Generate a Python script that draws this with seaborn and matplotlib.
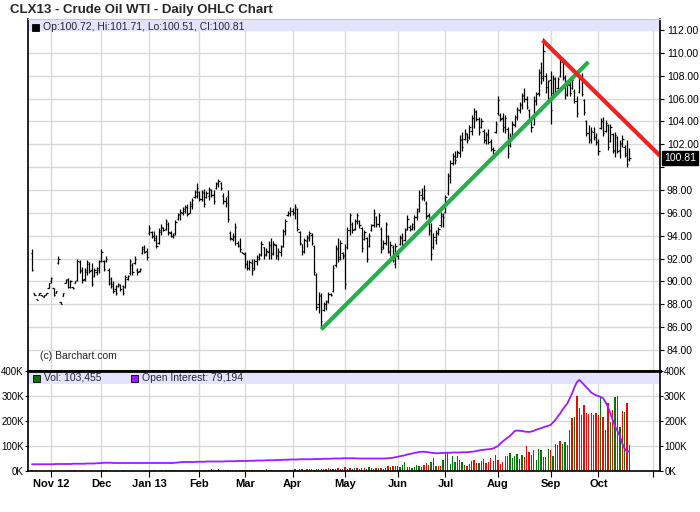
import numpy as np
import pandas as pd
import seaborn as sns
import matplotlib.pyplot as plt
import matplotlib.transforms as mtrans
from matplotlib.patches import Rectangle

# NYMEX closed days in the window (incl. hurricane Sandy)
holidays = ["2012-10-29", "2012-10-30", "2012-11-22", "2012-12-25", "2013-01-01",
            "2013-01-21", "2013-02-18", "2013-03-29", "2013-05-27", "2013-07-04",
            "2013-09-02", "2013-11-28"]

# daily bars, Oct 18 2012 .. Oct 18 2013 (one row per month)
high = [
    92.8, 89.0, 88.5, 89.0, 88.8, 88.8, 89.0, 89.9,
    90.4, 89.4, 89.2, 92.2, 88.2, 89.0, 90.2, 90.3, 90.1, 89.5, 90.0, 92.0, 91.9, 91.3, 91.2, 91.9, 91.7, 91.6, 91.2, 91.3, 91.9,
    92.8, 91.9, 92.2, 91.2, 90.4, 90.0, 89.7, 89.9, 89.8, 89.7, 90.6, 90.6, 92.0, 91.6, 92.2, 91.2, 91.2, 93.1, 93.2, 92.9,
    94.9, 94.4, 94.4, 94.1, 94.7, 95.0, 94.8, 95.5, 95.2, 94.4, 94.2, 95.4, 96.0, 96.3, 96.5, 96.7, 96.8, 97.0, 97.3, 98.0, 98.6,
    97.9, 98.0, 98.1, 97.9, 98.3, 98.1, 98.0, 98.7, 99.0, 98.7, 97.7, 97.4, 98.0, 94.4, 94.2, 95.1, 93.5, 93.8, 92.6,
    92.6, 91.9, 91.9, 92.0, 92.0, 92.3, 92.5, 93.5, 93.0, 92.9, 93.5, 93.8, 93.5, 93.3, 92.9, 93.2, 94.6, 95.5, 96.2, 96.5,
    96.4, 96.8, 96.4, 94.4, 93.3, 93.8, 94.1, 94.4, 94.2, 93.2, 90.7, 89.1, 89.0, 88.2, 88.4, 89.1, 89.0, 91.4, 93.2, 93.8, 93.6, 92.6,
    93.3, 94.8, 96.0, 95.2, 95.5, 96.0, 95.4, 94.8, 94.5, 93.9, 94.2, 95.0, 96.3, 95.7, 96.0, 94.8, 93.6, 95.2, 94.1, 93.5, 93.2, 93.4,
    92.8, 94.1, 94.2, 94.7, 95.8, 94.9, 95.1, 95.8, 96.4, 98.0, 98.2, 98.4, 97.0, 96.0, 95.1, 94.2, 94.5, 94.8, 96.1, 96.0,
    97.6, 99.5, 100.6, 101.2, 101.4, 101.5, 102.8, 103.1, 103.3, 103.0, 103.7, 104.6, 105.2, 105.0, 104.4, 104.3, 103.3, 103.1, 103.3, 102.5, 101.8, 104.0,
    106.2, 104.7, 104.7, 104.6, 103.5, 103.0, 104.0, 104.6, 105.3, 105.7, 106.5, 106.9, 106.2, 105.1, 104.4, 106.2, 106.6, 108.6, 109.2, 111.3, 108.2, 107.6,
    108.4, 108.1, 107.9, 107.9, 109.7, 109.4, 108.1, 107.6, 107.5, 107.9, 106.8, 106.2, 108.1, 108.2, 106.0, 104.1, 103.7, 103.5, 103.5, 103.0,
    102.5, 104.3, 104.4, 104.1, 103.8, 103.8, 103.0, 103.1, 102.7, 102.4, 102.8, 101.9, 102.4, 101.71,
]
low = [
    90.9, 88.8, 88.4, 88.8, 88.7, 88.6, 88.8, 89.4,
    89.9, 88.7, 89.0, 91.5, 88.0, 88.7, 89.9, 89.4, 89.4, 89.3, 89.9, 90.0, 90.7, 89.9, 90.0, 90.6, 90.7, 89.6, 90.4, 90.6, 90.7,
    91.7, 90.9, 91.7, 89.7, 89.4, 89.0, 88.8, 89.5, 89.2, 88.8, 89.4, 90.1, 90.6, 90.6, 91.5, 90.6, 90.8, 92.4, 92.5, 91.9,
    94.1, 93.8, 93.5, 92.9, 93.3, 94.1, 94.4, 94.5, 94.1, 93.9, 93.8, 94.1, 95.4, 95.4, 95.8, 96.0, 95.7, 96.0, 96.3, 97.3, 97.3,
    97.0, 97.0, 96.5, 97.3, 97.1, 97.4, 96.8, 98.1, 98.3, 98.0, 96.8, 96.5, 95.2, 93.6, 93.5, 93.2, 93.0, 92.6, 92.5,
    91.2, 91.0, 91.0, 90.6, 91.0, 91.4, 91.9, 92.2, 92.0, 92.2, 92.0, 92.0, 92.3, 92.0, 91.9, 92.2, 93.0, 94.1, 95.7, 95.7,
    95.8, 95.5, 94.4, 93.2, 92.3, 92.5, 93.0, 93.5, 93.2, 90.6, 87.5, 87.2, 86.0, 87.4, 87.5, 88.1, 88.7, 89.1, 91.3, 91.7, 91.9, 92.0,
    89.3, 92.8, 94.1, 94.2, 94.5, 95.0, 94.7, 92.6, 93.6, 91.7, 93.0, 94.4, 94.8, 94.8, 94.8, 92.5, 92.8, 93.2, 92.5, 92.2, 91.7, 91.2,
    92.0, 93.2, 93.0, 93.5, 94.5, 94.4, 94.5, 94.5, 95.4, 96.1, 97.1, 97.0, 95.5, 94.1, 91.9, 92.8, 93.3, 94.1, 94.8, 94.8,
    96.0, 97.6, 98.6, 100.2, 100.3, 100.9, 100.9, 101.4, 102.4, 102.1, 102.5, 102.8, 103.4, 104.0, 102.8, 103.4, 102.1, 102.0, 102.0, 101.4, 101.1, 103.0,
    104.6, 104.0, 103.1, 103.0, 100.8, 101.8, 102.4, 103.5, 104.1, 104.7, 105.1, 105.7, 105.1, 104.0, 103.1, 103.7, 105.4, 106.2, 107.3, 107.5, 106.5, 105.7,
    103.8, 106.3, 106.2, 106.8, 107.9, 107.6, 106.0, 106.2, 106.2, 106.8, 105.6, 104.4, 106.5, 106.2, 104.6, 102.7, 102.1, 102.1, 102.4, 101.9,
    101.1, 103.3, 102.7, 103.1, 101.5, 102.2, 101.2, 100.9, 101.2, 100.8, 101.8, 100.9, 100.0, 100.51,
]
open_ = [
    92.5, 89.0, 88.5, 88.8, 88.8, 88.6, 88.8, 89.4,
    90.0, 89.4, 89.0, 91.6, 88.2, 88.7, 89.9, 90.2, 89.5, 89.5, 89.9, 90.1, 91.7, 91.0, 90.2, 90.8, 91.5, 91.0, 90.5, 90.8, 91.0,
    91.8, 91.8, 91.8, 91.0, 90.2, 89.8, 89.3, 89.6, 89.7, 89.6, 89.5, 90.2, 90.7, 91.4, 91.6, 91.0, 90.9, 92.5, 92.8, 92.7,
    94.2, 94.3, 94.0, 93.8, 93.4, 94.3, 94.7, 94.6, 95.0, 94.2, 94.0, 94.2, 95.5, 95.8, 96.0, 96.2, 96.5, 96.0, 96.6, 97.4, 97.5,
    97.8, 97.2, 97.7, 97.4, 97.5, 98.0, 97.6, 98.2, 98.5, 98.6, 97.5, 97.0, 97.5, 94.2, 93.7, 94.0, 93.4, 93.2, 92.6,
    92.4, 91.5, 91.2, 91.6, 91.2, 91.8, 92.0, 92.4, 93.0, 92.4, 92.6, 93.2, 92.5, 93.2, 92.3, 92.6, 93.1, 94.4, 95.8, 96.0,
    96.2, 96.0, 96.3, 94.3, 93.3, 92.7, 93.5, 93.8, 94.1, 93.1, 90.6, 88.0, 88.7, 87.5, 88.0, 88.3, 88.9, 89.2, 91.4, 92.8, 92.1, 92.5,
    92.3, 93.0, 94.5, 95.0, 94.6, 95.3, 95.3, 94.7, 93.7, 93.8, 93.1, 94.5, 94.9, 95.6, 95.0, 94.6, 93.0, 93.4, 94.0, 92.6, 93.0, 91.5,
    92.2, 93.3, 93.8, 93.6, 94.6, 94.8, 94.6, 94.8, 95.6, 96.3, 97.6, 97.3, 96.9, 95.8, 94.5, 93.0, 93.6, 94.2, 94.9, 95.7,
    96.1, 97.7, 99.2, 100.4, 101.0, 100.9, 101.2, 102.4, 102.5, 102.9, 102.6, 103.2, 104.3, 104.9, 104.2, 103.5, 103.2, 102.4, 102.9, 102.3, 101.6, 103.1,
    104.7, 104.6, 104.3, 103.5, 103.3, 101.9, 102.6, 103.7, 104.4, 105.0, 105.4, 106.2, 106.0, 105.0, 104.2, 103.8, 105.8, 106.5, 108.2, 108.0, 108.0, 107.0,
    107.6, 106.5, 107.7, 106.9, 108.0, 109.2, 107.8, 106.4, 107.2, 106.9, 106.7, 105.8, 106.6, 107.9, 105.9, 104.0, 103.0, 102.5, 103.1, 102.6,
    102.2, 103.4, 104.0, 103.2, 103.7, 102.3, 102.9, 101.4, 102.6, 101.5, 102.0, 101.8, 101.2, 100.72,
]
close = [
    91.0, 88.8, 88.4, 89.0, 88.7, 88.8, 89.0, 89.9,
    90.3, 88.8, 89.2, 92.0, 88.0, 89.0, 90.1, 89.5, 90.0, 89.4, 90.0, 91.8, 90.9, 90.1, 91.0, 91.7, 90.9, 89.8, 91.0, 91.2, 91.8,
    92.6, 91.1, 92.0, 89.9, 89.6, 89.2, 89.0, 89.8, 89.3, 89.0, 90.4, 90.5, 91.8, 90.8, 92.0, 90.8, 91.1, 93.0, 92.6, 92.1,
    94.7, 94.0, 93.6, 93.1, 94.5, 94.8, 94.5, 95.3, 94.3, 94.0, 94.1, 95.2, 95.9, 96.1, 96.3, 96.5, 95.9, 96.8, 97.1, 97.8, 98.2,
    97.2, 97.8, 96.8, 97.7, 98.1, 97.6, 97.0, 98.6, 98.8, 98.2, 97.0, 96.9, 95.5, 93.8, 93.9, 94.8, 93.1, 92.8, 92.5,
    91.5, 91.2, 91.7, 91.0, 91.8, 92.1, 92.3, 93.3, 92.3, 92.7, 93.2, 92.4, 93.3, 92.2, 92.7, 93.0, 94.4, 95.3, 96.0, 96.2,
    96.1, 96.5, 94.6, 93.4, 92.6, 93.6, 93.9, 94.2, 93.4, 90.8, 87.8, 88.8, 86.5, 88.0, 88.2, 88.9, 88.8, 91.2, 92.9, 92.0, 93.4, 92.2,
    89.8, 94.5, 95.8, 94.5, 95.3, 95.8, 94.9, 92.9, 94.3, 92.0, 94.0, 94.9, 96.0, 95.0, 95.8, 92.8, 93.4, 95.0, 92.7, 93.2, 91.9, 93.1,
    92.6, 93.9, 93.3, 94.5, 95.5, 94.6, 95.0, 95.6, 96.2, 97.8, 97.4, 98.0, 95.7, 94.4, 92.4, 93.9, 94.2, 94.6, 95.9, 95.6,
    97.4, 99.3, 100.4, 101.0, 100.6, 101.3, 102.5, 101.8, 103.0, 102.4, 103.5, 104.3, 104.8, 104.2, 103.1, 104.0, 102.4, 102.8, 102.2, 101.6, 101.5, 103.8,
    105.9, 104.2, 103.5, 104.3, 101.2, 102.7, 103.8, 104.4, 105.1, 105.5, 106.3, 106.0, 105.3, 104.3, 103.5, 105.9, 106.4, 108.3, 107.8, 110.2, 107.0, 107.5,
    105.0, 107.8, 106.6, 107.7, 109.5, 107.9, 106.3, 107.3, 106.5, 107.6, 105.8, 104.7, 107.9, 106.4, 104.8, 103.0, 102.4, 103.2, 102.6, 102.2,
    101.4, 104.0, 103.0, 103.9, 101.8, 103.5, 101.5, 102.8, 101.4, 102.1, 102.5, 101.1, 100.3, 100.81,
]
# volume and open interest, thousands of contracts
volume = [
    4, 0, 3, 0, 0, 0, 0, 0,
    0, 0, 0, 0, 0, 0, 0, 0, 3, 0, 3, 0, 0, 3, 0, 0, 0, 3, 0, 0, 0,
    3, 3, 3, 0, 0, 0, 3, 0, 0, 3, 0, 0, 0, 3, 0, 0, 0, 0, 0, 0,
    0, 3, 4, 2, 3, 4, 2, 3, 5, 4, 3, 6, 3, 4, 5, 2, 3, 4, 3, 6, 4,
    5, 3, 6, 4, 3, 7, 5, 4, 8, 3, 5, 4, 6, 3, 4, 5, 3, 4, 6,
    4, 6, 3, 5, 4, 3, 6, 5, 4, 7, 3, 5, 6, 4, 5, 3, 6, 4, 5, 6,
    6, 8, 5, 7, 9, 6, 8, 10, 7, 6, 9, 8, 10, 7, 9, 11, 8, 10, 9, 12, 8, 10,
    17, 9, 12, 10, 12, 14, 9, 11, 13, 10, 15, 12, 10, 14, 12, 11, 8, 13, 20, 17, 20, 20,
    20, 17, 24, 36, 16, 16, 13, 17, 24, 20, 17, 24, 31, 24, 36, 53, 20, 20, 20, 44,
    73, 71, 28, 60, 36, 60, 44, 36, 24, 20, 28, 40, 44, 33, 33, 41, 47, 33, 36, 51, 41, 64,
    44, 28, 36, 60, 60, 71, 52, 60, 68, 47, 64, 55, 100, 77, 64, 84, 44, 87, 84, 55, 55, 87,
    84, 60, 108, 104, 120, 108, 117, 104, 164, 211, 217, 300, 251, 224, 264, 233, 228, 233, 224, 231,
    224, 300, 217, 164, 271, 197, 244, 297, 300, 175, 241, 237, 271, 103.455,
]
vol_up = [
    0, 0, 0, 0, 0, 0, 0, 0,
    0, 0, 0, 0, 0, 0, 0, 0, 0, 0, 0, 0, 0, 0, 0, 0, 0, 0, 0, 0, 0,
    0, 0, 0, 0, 0, 0, 0, 0, 0, 1, 0, 0, 0, 1, 0, 0, 0, 0, 0, 0,
    1, 0, 1, 1, 0, 1, 0, 0, 1, 1, 0, 1, 0, 1, 1, 0, 0, 1, 0, 1, 1,
    0, 1, 1, 0, 1, 0, 0, 1, 1, 0, 1, 0, 1, 1, 0, 0, 1, 0, 1,
    1, 0, 1, 0, 0, 1, 1, 0, 1, 0, 1, 1, 0, 0, 1, 0, 1, 0, 0, 1,
    0, 1, 0, 1, 1, 0, 0, 1, 0, 1, 0, 1, 1, 0, 1, 0, 0, 1, 1, 0, 1, 0,
    0, 1, 0, 1, 1, 0, 1, 0, 0, 1, 1, 0, 1, 0, 1, 0, 1, 1, 0, 1, 0, 1,
    1, 1, 1, 1, 0, 0, 1, 1, 1, 1, 1, 0, 0, 0, 1, 1, 1, 0, 0, 1,
    1, 1, 1, 1, 1, 1, 0, 1, 1, 0, 1, 1, 0, 0, 1, 0, 1, 0, 0, 0, 1, 1,
    0, 0, 0, 0, 0, 1, 1, 1, 1, 1, 1, 0, 0, 0, 1, 0, 1, 1, 1, 0, 0, 1,
    0, 1, 1, 0, 0, 1, 1, 0, 0, 0, 1, 0, 0, 0, 0, 0, 0, 0, 0, 0,
    0, 1, 0, 1, 0, 1, 0, 1, 0, 1, 0, 1, 0, 1,
]
open_interest = [
    27, 27, 27, 27, 27, 27, 27, 27,
    27, 27, 28, 28, 28, 28, 28, 28, 28, 29, 29, 29, 29, 29, 29, 30, 30, 30, 30, 31, 31,
    32, 33, 33, 33, 33, 32, 32, 32, 32, 32, 32, 32, 32, 32, 32, 32, 32, 32, 32, 32,
    32, 32, 32, 32, 32, 32, 32, 32, 32, 32, 32, 33, 34, 35, 36, 36, 36, 36, 36, 36, 37,
    37, 37, 37, 38, 38, 38, 38, 38, 38, 38, 38, 39, 39, 39, 39, 39, 40, 40, 40,
    40, 40, 41, 41, 41, 42, 42, 42, 42, 43, 43, 43, 43, 44, 44, 44, 45, 45, 45, 46,
    46, 46, 46, 47, 47, 47, 47, 47, 47, 48, 48, 48, 48, 49, 49, 49, 49, 50, 50, 50, 50, 51,
    51, 51, 51, 51, 51, 50, 50, 50, 50, 50, 50, 50, 50, 50, 50, 50, 50, 50, 51, 52, 53, 55,
    57, 59, 61, 63, 66, 68, 70, 72, 74, 76, 77, 77, 76, 75, 73, 72, 71, 71, 72, 72,
    73, 73, 73, 74, 74, 74, 74, 75, 75, 75, 76, 77, 78, 80, 82, 84, 85, 86, 87, 88, 90, 95,
    100, 110, 118, 126, 133, 140, 150, 160, 162, 161, 160, 158, 157, 156, 158, 161, 165, 168, 171, 175, 178, 181,
    184, 194, 204, 218, 230, 245, 258, 270, 290, 310, 335, 355, 364, 356, 345, 335, 325, 314, 308, 303,
    300, 296, 291, 275, 257, 232, 204, 178, 160, 140, 110, 90, 77, 79.194,
]

# hand drawn trend lines (bar index, price)
green_x = [121, 232.8]
green_y = [85.8, 109.2]
red_x = [213.7, 262.8]
red_y = [111.1, 101.0]

month_labels = ["Nov 12", "Dec", "Jan 13", "Feb", "Mar", "Apr", "May",
                "Jun", "Jul", "Aug", "Sep", "Oct", ""]
price_ticks = np.arange(84, 113, 2)
vol_ticks = [0, 100, 200, 300, 400]

n = len(close)
idx = np.arange(n)
days = pd.bdate_range("2012-10-18", "2013-11-29", freq="C", holidays=holidays)
month_pos = [i for i in range(1, len(days)) if days[i].month != days[i - 1].month]
month_pos = month_pos[:len(month_labels)]

sns.set_theme(style="white")
plt.rcParams["font.family"] = ["Liberation Sans", "DejaVu Sans"]

W, H = 700, 512
fig = plt.figure(figsize=(W / 100, H / 100), dpi=100)
ax = fig.add_axes([28 / W, 1 - 371 / H, 632 / W, 352 / H])
axv = fig.add_axes([28 / W, 1 - 471 / H, 632 / W, 100 / H], sharex=ax)

grid_c = "#d9d9d9"
band_c = "#e3e3ff"

# ---- price pane
ax.set_xlim(-1.7, 262.8)
ax.set_ylim(82.17, 112.96)
ax.axhspan(111.87, 113.5, color=band_c, lw=0, zorder=0.8)
ax.set_xticks(month_pos)
ax.set_yticks(price_ticks)
ax.grid(True, color=grid_c, lw=1)
ax.set_axisbelow(True)

ax.vlines(idx, low, high, color="black", lw=0.9)
ax.hlines(open_, idx - 0.55, idx, color="black", lw=0.9)
ax.hlines(close, idx, idx + 0.55, color="black", lw=0.9)

ax.plot(green_x, green_y, color="#22b04a", lw=3, solid_capstyle="butt")
ax.plot(red_x, red_y, color="#ee2222", lw=3, solid_capstyle="butt", clip_on=True)

ax.yaxis.tick_right()
ax.set_yticklabels(["" if abs(v - close[-1]) < 1.0 else f"{v:.2f}" for v in price_ticks])
ax.tick_params(axis="y", which="both", right=True, direction="out", length=3,
               width=0.8, labelsize=7.5, pad=2, colors="black")
ax.tick_params(axis="x", bottom=False, labelbottom=False)
for side in ["left", "right"]:
    ax.spines[side].set_color("black")
    ax.spines[side].set_linewidth(1.2)
ax.spines["top"].set_color("#c8c8c8")
ax.spines["top"].set_linewidth(0.8)
ax.spines["bottom"].set_color("black")
ax.spines["bottom"].set_linewidth(2)

last_tr = mtrans.blended_transform_factory(ax.transAxes, ax.transData)
ax.text(1.006, close[-1], f"{close[-1]:.2f}", transform=last_tr, color="white",
        fontsize=7.5, va="center", ha="left",
        bbox=dict(boxstyle="square,pad=0.18", fc="black", ec="black"))

# ---- volume pane
axv.set_ylim(0, 400)
axv.axhspan(350, 420, color=band_c, lw=0, zorder=0.8)
axv.set_yticks(vol_ticks)
axv.set_yticklabels([f"{v}K" for v in vol_ticks])
axv.grid(True, color=grid_c, lw=1)
axv.set_axisbelow(True)
bar_cols = ["#007a00" if u else "#ff0000" for u in vol_up]
axv.bar(idx, volume, width=0.55, color=bar_cols, lw=0, zorder=2)
sns.lineplot(x=idx, y=open_interest, ax=axv, color="#9a1cff", lw=1.3, zorder=3)

axv.set_xticks(month_pos)
axv.set_xticklabels(month_labels, fontweight="bold", fontsize=8)
axv.tick_params(axis="x", bottom=True, direction="out", length=4, width=0.8, pad=2,
                colors="black")
axv.tick_params(axis="y", left=True, right=True, labelleft=True, labelright=True,
                direction="out", length=2, width=0.8, labelsize=7, pad=1, colors="black")
for side in ["left", "right", "bottom"]:
    axv.spines[side].set_color("black")
    axv.spines[side].set_linewidth(1.2)
axv.spines["top"].set_color("black")
axv.spines["top"].set_linewidth(2)
axv.set_xlabel("")
axv.set_ylabel("")

# ---- texts
fig.text(10 / W, 1 - 10 / H, "CLX13 - Crude Oil WTI - Daily OHLC Chart",
         fontsize=9.5, fontweight="bold", va="center", ha="left")

def legend_box(x, y, color):
    fig.add_artist(Rectangle((x / W, 1 - (y + 3.5) / H), 7 / W, 7 / H,
                             transform=fig.transFigure, fc=color, ec="black", lw=0.6))

legend_box(32, 27, "black")
fig.text(43 / W, 1 - 27 / H,
         f"Op:{open_[-1]:.2f}, Hi:{high[-1]:.2f}, Lo:{low[-1]:.2f}, Cl:{close[-1]:.2f}",
         fontsize=7.5, va="center", ha="left")
legend_box(33, 378, "#007a00")
fig.text(44 / W, 1 - 378 / H, f"Vol: {volume[-1] * 1000:,.0f}",
         fontsize=7.5, va="center", ha="left")
legend_box(131, 378, "#9a1cff")
fig.text(142 / W, 1 - 378 / H, f"Open Interest: {open_interest[-1] * 1000:,.0f}",
         fontsize=7.5, va="center", ha="left")
fig.text(40 / W, 1 - 356 / H, "(c) Barchart.com", fontsize=7.5, va="center", ha="left")

fig.savefig("out.png", dpi=100)
